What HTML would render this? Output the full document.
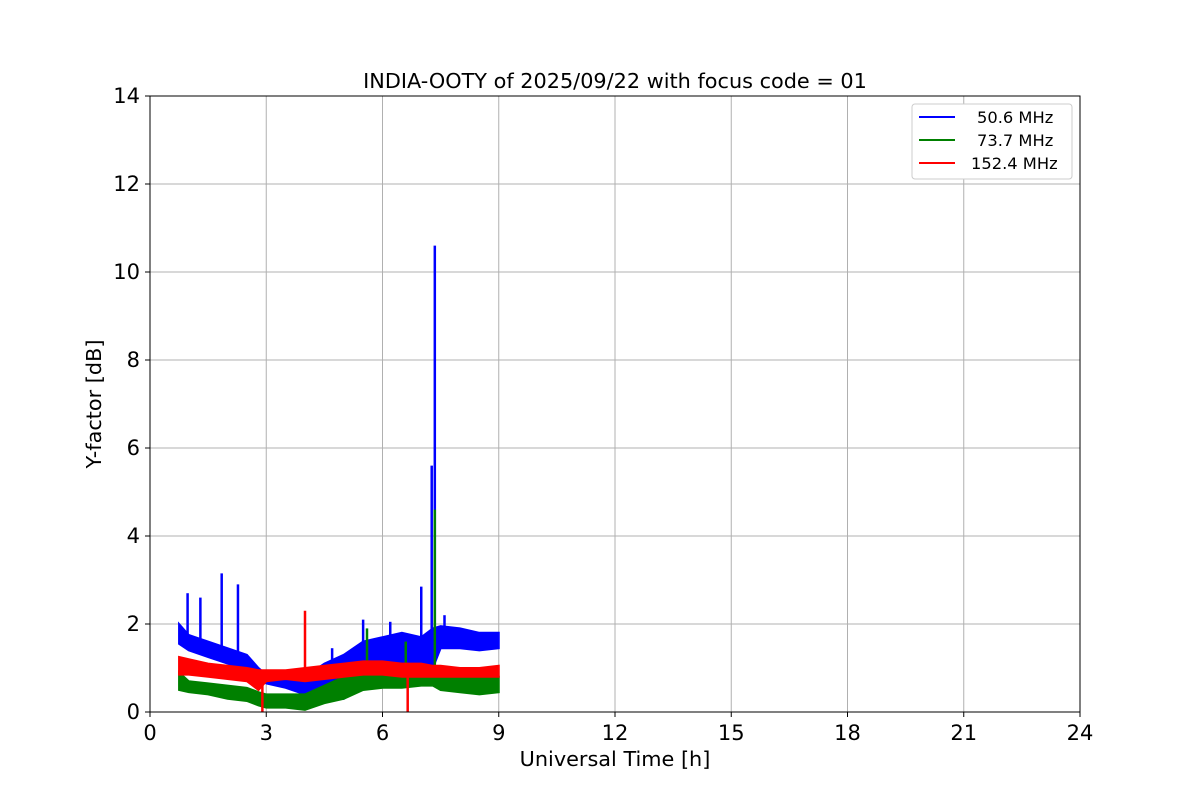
<!DOCTYPE html>
<html><head><meta charset="utf-8"><style>
body{margin:0;background:#fff;}
svg text{font-family:"DejaVu Sans","Liberation Sans",sans-serif;}
</style></head><body>
<svg id="chart" width="1200" height="800" xmlns="http://www.w3.org/2000/svg">
<rect width="1200" height="800" fill="#fff"/>
<g id="grid"></g>
<g id="plot"></g>
<rect x="150" y="96" width="930" height="616" fill="none" stroke="#000" stroke-width="1"/>
<g id="axes"></g>
<text x="615" y="88" text-anchor="middle" font-size="20.8">INDIA-OOTY of 2025/09/22 with focus code = 01</text>
<text x="615" y="766" text-anchor="middle" font-size="20.8">Universal Time [h]</text>
<text transform="translate(101,404) rotate(-90)" text-anchor="middle" font-size="20.8">Y-factor [dB]</text>
<g>
<rect x="912" y="104" width="160" height="75" rx="3" fill="#fff" stroke="#ccc"/>
<g><line x1="919" y1="117" x2="955" y2="117" stroke="#0000ff" stroke-width="2"/><text x="977" y="123" font-size="16.3">50.6 MHz</text></g>
<g><line x1="919" y1="140" x2="955" y2="140" stroke="#008000" stroke-width="2"/><text x="977" y="146" font-size="16.3">73.7 MHz</text></g>
<g><line x1="919" y1="163" x2="955" y2="163" stroke="#ff0000" stroke-width="2"/><text x="971" y="169" font-size="16.3">152.4 MHz</text></g>
</g>
</svg>
<script>
const times=[0.75,1,1.5,2,2.5,2.8,3,3.5,4,4.5,5,5.5,6,6.5,7,7.3,7.5,8,8.5,9];
const blueLo=[1.55,1.4,1.25,1.1,0.95,0.75,0.65,0.55,0.4,0.5,0.3,0.6,0.8,0.8,0.9,1.0,1.45,1.45,1.4,1.45];
const blueHi=[2.0,1.75,1.6,1.45,1.3,1.0,0.85,0.8,0.8,1.1,1.3,1.6,1.7,1.8,1.7,1.9,1.95,1.9,1.8,1.8];
const greenLo=[0.5,0.45,0.4,0.3,0.25,0.15,0.1,0.1,0.05,0.2,0.3,0.5,0.55,0.55,0.6,0.6,0.5,0.45,0.4,0.45];
const greenHi=[0.9,0.7,0.65,0.6,0.55,0.45,0.4,0.4,0.4,0.6,0.8,0.9,0.95,1.0,0.95,1.0,0.9,0.85,0.8,0.8];
const redLo=[0.85,0.85,0.8,0.75,0.7,0.5,0.7,0.75,0.7,0.75,0.8,0.85,0.85,0.8,0.8,0.8,0.8,0.8,0.8,0.8];
const redHi=[1.25,1.2,1.1,1.05,1.0,0.95,0.95,0.95,1.0,1.05,1.1,1.15,1.15,1.1,1.1,1.05,1.05,1.0,1.0,1.05];
const blueSpikeT=[0.97,1.3,1.85,2.27,4.7,5.5,6.2,7.0,7.27,7.35,7.6];
const blueSpikeV=[2.7,2.6,3.15,2.9,1.45,2.1,2.05,2.85,5.6,10.6,2.2];
const greenSpikeT=[5.6,6.6,7.35];
const greenSpikeV=[1.9,1.6,4.6];
const redSpikeT=[2.9,4.0,6.65];
const redSpikeV=[0,2.3,0];
const xTicks=[0,3,6,9,12,15,18,21,24];
const yTicks=[0,2,4,6,8,10,12,14];
const NS='http://www.w3.org/2000/svg';
const X=t=>150+t*930/24, Y=v=>712-v*616/14;
function mk(tag,attrs,parent){const e=document.createElementNS(NS,tag);for(const k in attrs)e.setAttribute(k,attrs[k]);parent.appendChild(e);return e;}
const grid=document.getElementById('grid'),axes=document.getElementById('axes'),plot=document.getElementById('plot');
xTicks.forEach(t=>{
 const g=mk('line',{x1:X(t),x2:X(t),y1:96,y2:712,stroke:'#b0b0b0','stroke-width':1},grid);
 
 
 mk('line',{x1:X(t),x2:X(t),y1:712,y2:717,stroke:'#000'},axes);
 const tx=mk('text',{x:X(t),y:740,'text-anchor':'middle','font-size':21},axes);tx.textContent=t;
 
 
});
yTicks.forEach(v=>{
 const g=mk('line',{x1:150,x2:1080,y1:Y(v),y2:Y(v),stroke:'#b0b0b0','stroke-width':1},grid);
 
 
 mk('line',{x1:145,x2:150,y1:Y(v),y2:Y(v),stroke:'#000'},axes);
 const tx=mk('text',{x:140,y:Y(v)+7,'text-anchor':'end','font-size':21},axes);tx.textContent=v;
 
 
});
function band(lo,hi,col,name){
 let d='M'+times.map((t,i)=>X(t)+','+Y(hi[i])).join('L');
 d+='L'+times.map((t,i)=>X(t)+','+Y(lo[i])).reverse().join('L')+'Z';
 const p=mk('path',{d:d,fill:col,stroke:col,'stroke-width':2},plot);
 
 
}
function spikes(ts,vs,lo,hi,col,name){
 ts.forEach((t,i)=>{
  let k=0;while(k<times.length-2&&times[k+1]<t)k++;
  const f=(t-times[k])/(times[k+1]-times[k]);
  const base=vs[i]<lo[k]?(hi[k]+(hi[k+1]-hi[k])*f):(lo[k]+(lo[k+1]-lo[k])*f);
  const l=mk('line',{x1:X(t),x2:X(t),y1:Y(base),y2:Y(vs[i]),stroke:col,'stroke-width':2.5},plot);
  
  
 });
}
band(blueLo,blueHi,'#0000ff','series-50mhz');
spikes(blueSpikeT,blueSpikeV,blueLo,blueHi,'#0000ff','spike-50mhz');
band(greenLo,greenHi,'#008000','series-73mhz');
spikes(greenSpikeT,greenSpikeV,greenLo,greenHi,'#008000','spike-73mhz');
band(redLo,redHi,'#ff0000','series-152mhz');
spikes(redSpikeT,redSpikeV,redLo,redHi,'#ff0000','spike-152mhz');
</script>
</body></html>
